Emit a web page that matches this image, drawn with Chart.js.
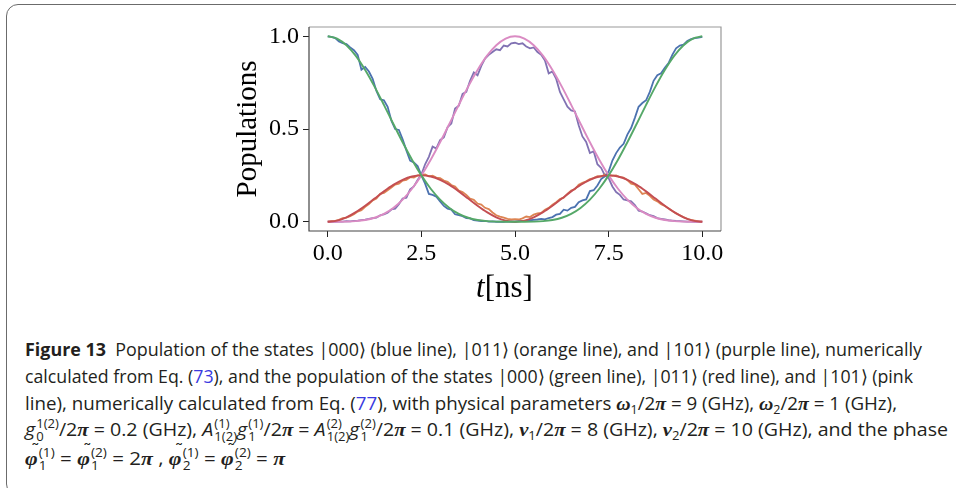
<!DOCTYPE html>
<html><head><meta charset="utf-8">
<script src="https://cdn.jsdelivr.net/npm/chart.js@4.4.1/dist/chart.umd.min.js"></script>
<style>
html,body{margin:0;padding:0;background:#fff;}
body{width:956px;height:488px;position:relative;overflow:hidden;}
#frame{position:absolute;left:6px;top:4px;width:1000px;height:492px;border:1.5px solid #6b6b6b;border-radius:12px;box-sizing:border-box;}
#wrap{position:absolute;left:0;top:0;width:956px;height:320px;}
#xt{position:absolute;left:476px;top:271px;font-family:'Liberation Serif',serif;font-size:31px;line-height:31px;white-space:nowrap;color:#000;}
.cap{position:absolute;left:25px;font-family:'Open Sans',sans-serif;font-size:18px;line-height:24px;white-space:nowrap;transform-origin:0 0;color:#231f20;}
.cap a{color:#3a3adf;text-decoration:none;}
.m{font-family:'Liberation Serif',serif;font-style:italic;font-weight:bold;font-size:19px;}
.it{font-style:italic;}
.cap sub{font-size:12px;vertical-align:-4px;line-height:0;}
.ss{display:inline-block;vertical-align:-5px;font-size:12px;line-height:13px;margin-left:1px;}
.ss>span{display:block;}
.tl{position:relative;display:inline-block;}
.tl>.tilde{position:absolute;left:5px;top:-9px;font-family:'DejaVu Sans',sans-serif;font-style:normal;font-weight:normal;font-size:16px;}
</style></head>
<body>
<div id="frame"></div>
<div id="wrap"><canvas id="c" width="956" height="320"></canvas></div>
<div id="xt"><i>t</i>[ns]</div>
<div class="cap" style="top:337px"><b>Figure 13</b>&nbsp; Population of the states |000⟩ (blue line), |011⟩ (orange line), and |101⟩ (purple line), numerically</div>
<div class="cap" style="top:364px">calculated from Eq. (<a>73</a>), and the population of the states |000⟩ (green line), |011⟩ (red line), and |101⟩ (pink</div>
<div class="cap" style="top:391px">line), numerically calculated from Eq. (<a>77</a>), with physical parameters <span class="m">ω</span><sub>1</sub>/2<span class="m">π</span> = 9 (GHz), <span class="m">ω</span><sub>2</sub>/2<span class="m">π</span> = 1 (GHz),</div>
<div class="cap" style="top:417px"><span class="it">g</span><span class="ss"><span>1(2)</span><span>0</span></span>/2<span class="m">π</span> = 0.2 (GHz), <span class="it">A</span><span class="ss"><span>(1)</span><span>1(2)</span></span><span class="it">g</span><span class="ss"><span>(1)</span><span>1</span></span>/2<span class="m">π</span> = <span class="it">A</span><span class="ss"><span>(2)</span><span>1(2)</span></span><span class="it">g</span><span class="ss"><span>(2)</span><span>1</span></span>/2<span class="m">π</span> = 0.1 (GHz), <span class="m">ν</span><sub>1</sub>/2<span class="m">π</span> = 8 (GHz), <span class="m">ν</span><sub>2</sub>/2<span class="m">π</span> = 10 (GHz), and the phase</div>
<div class="cap" style="top:446px"><span class="m tl">φ<span class="tilde">˜</span></span><span class="ss"><span>(1)</span><span>1</span></span> = <span class="m tl">φ<span class="tilde">˜</span></span><span class="ss"><span>(2)</span><span>1</span></span> = 2<span class="m">π</span> , <span class="m tl">φ<span class="tilde">˜</span></span><span class="ss"><span>(1)</span><span>2</span></span> = <span class="m tl">φ<span class="tilde">˜</span></span><span class="ss"><span>(2)</span><span>2</span></span> = <span class="m">π</span></div>
<script>
// ---- data ----
const tFine = [0,0.1,0.2,0.3,0.4,0.5,0.6,0.7,0.8,0.9,1,1.1,1.2,1.3,1.4,1.5,1.6,1.7,1.8,1.9,2,2.1,2.2,2.3,2.4,2.5,2.6,2.7,2.8,2.9,3,3.1,3.2,3.3,3.4,3.5,3.6,3.7,3.8,3.9,4,4.1,4.2,4.3,4.4,4.5,4.6,4.7,4.8,4.9,5,5.1,5.2,5.3,5.4,5.5,5.6,5.7,5.8,5.9,6,6.1,6.2,6.3,6.4,6.5,6.6,6.7,6.8,6.9,7,7.1,7.2,7.3,7.4,7.5,7.6,7.7,7.8,7.9,8,8.1,8.2,8.3,8.4,8.5,8.6,8.7,8.8,8.9,9,9.1,9.2,9.3,9.4,9.5,9.6,9.7,9.8,9.9,10];
const tSmooth = [0,0.25,0.5,0.75,1,1.25,1.5,1.75,2,2.25,2.5,2.75,3,3.25,3.5,3.75,4,4.25,4.5,4.75,5,5.25,5.5,5.75,6,6.25,6.5,6.75,7,7.25,7.5,7.75,8,8.25,8.5,8.75,9,9.25,9.5,9.75,10];

// numerical (Eq. 73)
const blue000 = [1.000,0.997,0.990,0.972,0.963,0.958,0.940,0.925,0.900,0.820,
 0.835,0.810,0.770,0.705,0.660,0.655,0.620,0.545,0.500,0.495,
 0.445,0.385,0.330,0.320,0.300,0.250,0.205,0.150,0.145,0.135,
 0.110,0.085,0.070,0.065,0.040,0.035,0.030,0.020,0.018,0.008,
 0.006,0.004,0.005,0.001,0.002,0.000,0.001,0.000,0.002,0.001,
 0.000,0.003,0.005,0.004,0.008,0.010,0.012,0.015,0.013,0.020,
 0.025,0.038,0.042,0.065,0.060,0.075,0.080,0.105,0.115,0.120,
 0.165,0.170,0.195,0.230,0.245,0.270,0.330,0.370,0.400,0.420,
 0.470,0.505,0.560,0.620,0.640,0.655,0.700,0.760,0.790,0.800,
 0.830,0.855,0.900,0.935,0.950,0.955,0.975,0.985,0.990,0.993,
 0.997];
const orange011 = [0.000,0.003,0.005,0.010,0.020,0.022,0.030,0.040,0.055,0.062,
 0.080,0.095,0.115,0.125,0.150,0.155,0.170,0.185,0.200,0.205,
 0.222,0.225,0.240,0.238,0.250,0.252,0.255,0.245,0.248,0.238,
 0.235,0.222,0.215,0.198,0.190,0.168,0.160,0.145,0.125,0.118,
 0.098,0.092,0.075,0.068,0.050,0.035,0.028,0.022,0.015,0.012,
 0.014,0.012,0.018,0.028,0.025,0.038,0.045,0.048,0.065,0.075,
 0.092,0.105,0.122,0.130,0.150,0.168,0.175,0.200,0.210,0.218,
 0.230,0.235,0.245,0.243,0.255,0.252,0.248,0.250,0.240,0.238,
 0.225,0.205,0.200,0.175,0.150,0.155,0.140,0.120,0.110,0.095,
 0.085,0.072,0.058,0.045,0.035,0.025,0.016,0.010,0.006,0.002,
 0.000];
const purple101 = [0.000,0.001,0.000,0.002,0.001,0.003,0.002,0.005,0.006,0.009,
 0.011,0.015,0.020,0.022,0.035,0.040,0.048,0.066,0.070,0.095,
 0.125,0.130,0.175,0.190,0.225,0.255,0.310,0.350,0.405,0.395,
 0.440,0.455,0.510,0.530,0.610,0.625,0.690,0.700,0.760,0.805,
 0.790,0.840,0.880,0.900,0.915,0.930,0.925,0.950,0.945,0.962,
 0.965,0.958,0.962,0.945,0.935,0.940,0.915,0.900,0.870,0.800,
 0.810,0.770,0.700,0.660,0.620,0.600,0.595,0.520,0.460,0.430,
 0.370,0.380,0.310,0.290,0.250,0.235,0.190,0.160,0.145,0.120,
 0.115,0.110,0.090,0.060,0.055,0.045,0.035,0.030,0.020,0.016,
 0.012,0.008,0.006,0.004,0.003,0.002,0.001,0.001,0.000,0.000,
 0.000];

// effective model (Eq. 77)
const green000 = [1,0.9877,0.9517,0.8940,0.8181,0.7286,0.6303,0.5285,0.4284,0.3343,0.25,0.1779,0.1194,0.0745,0.0425,0.0214,0.0091,0.0030,0.0006,0.0000,0,
 0.0000,0.0006,0.0030,0.0091,0.0214,0.0425,0.0745,0.1194,0.1779,0.25,0.3343,0.4284,0.5285,0.6303,0.7286,0.8181,0.8940,0.9517,0.9877,1];
const red011 = [0,0.0061,0.0239,0.0515,0.0864,0.1250,0.1636,0.1985,0.2261,0.2439,0.25,0.2439,0.2261,0.1985,0.1636,0.1250,0.0864,0.0515,0.0239,0.0061,0,
 0.0061,0.0239,0.0515,0.0864,0.1250,0.1636,0.1985,0.2261,0.2439,0.25,0.2439,0.2261,0.1985,0.1636,0.1250,0.0864,0.0515,0.0239,0.0061,0];
const pink101 = [0,0.0000,0.0006,0.0030,0.0091,0.0214,0.0425,0.0745,0.1194,0.1779,0.25,0.3343,0.4284,0.5285,0.6303,0.7286,0.8181,0.8940,0.9517,0.9877,1,
 0.9877,0.9517,0.8940,0.8181,0.7286,0.6303,0.5285,0.4284,0.3343,0.25,0.1779,0.1194,0.0745,0.0425,0.0214,0.0091,0.0030,0.0006,0.0000,0];

const xTicks = [0, 2.5, 5, 7.5, 10];
const yTicks = [0, 0.5, 1];

// ---- chart ----
const pts = (xs, ys) => xs.map((x, i) => ({x, y: ys[i]}));
const noisy = (label, ys, color) => ({label, data: pts(tFine, ys), borderColor: color, borderWidth: 1.8, pointRadius: 0, tension: 0, order: 2, fill: false});
const smooth = (label, ys, color) => ({label, data: pts(tSmooth, ys), borderColor: color, borderWidth: 1.9, pointRadius: 0, cubicInterpolationMode: 'monotone', order: 1, fill: false});

const framePlugin = {
  id: 'frame',
  afterDraw(chart) {
    const {ctx, chartArea: a} = chart;
    ctx.save();
    ctx.lineWidth = 1.2;
    ctx.strokeStyle = '#999';
    ctx.beginPath();
    ctx.moveTo(a.left, a.top); ctx.lineTo(a.right, a.top); ctx.lineTo(a.right, a.bottom);
    ctx.stroke();
    ctx.strokeStyle = '#444';
    ctx.beginPath();
    ctx.moveTo(a.left, a.top); ctx.lineTo(a.left, a.bottom); ctx.lineTo(a.right, a.bottom);
    ctx.stroke();
    ctx.restore();
  }
};

const serif = 'Liberation Serif';
new Chart(document.getElementById('c'), {
  type: 'line',
  data: {datasets: [
    noisy('|000⟩ numerical', blue000, '#4C72B0'),
    noisy('|011⟩ numerical', orange011, '#DD8452'),
    noisy('|101⟩ numerical', purple101, '#8172B3'),
    smooth('|000⟩ effective', green000, '#55A868'),
    smooth('|011⟩ effective', red011, '#C44E52'),
    smooth('|101⟩ effective', pink101, '#DA8BC3')
  ]},
  options: {
    responsive: false, animation: false, devicePixelRatio: 1,
    layout: {padding: {left: 228, top: 27, right: 235, bottom: 0}},
    plugins: {legend: {display: false}, tooltip: {enabled: false}},
    scales: {
      x: {
        type: 'linear', min: -0.5, max: 10.5,
        afterBuildTicks: ax => { ax.ticks = xTicks.map(v => ({value: v})); },
        afterFit: ax => { ax.height = 89; },
        ticks: {autoSkip: false, maxRotation: 0, padding: 2, color: '#000', font: {family: serif, size: 24}, callback: v => v.toFixed(1)},
        grid: {drawOnChartArea: false, drawTicks: true, tickLength: 6, tickColor: '#222'},
        border: {display: false}
      },
      y: {
        type: 'linear', min: -0.05, max: 1.05,
        afterBuildTicks: ax => { ax.ticks = yTicks.map(v => ({value: v})); },
        afterFit: ax => { ax.width = 81; },
        ticks: {autoSkip: false, padding: 4, color: '#000', font: {family: serif, size: 24}, callback: v => v.toFixed(1)},
        grid: {drawOnChartArea: false, drawTicks: true, tickLength: 6, tickColor: '#222'},
        border: {display: false},
        title: {display: true, text: 'Populations', color: '#000', font: {family: serif, size: 29}, padding: {top: 3, bottom: 0}}
      }
    }
  },
  plugins: [framePlugin]
});

// fit caption lines to the widths in the reference
const capRight = [922, 913, 897, 948, 285];
document.querySelectorAll('.cap').forEach((el, i) => {
  const w = el.getBoundingClientRect().width;
  el.style.transform = 'scaleX(' + ((capRight[i] - 25) / w) + ')';
});
</script>
</body></html>
